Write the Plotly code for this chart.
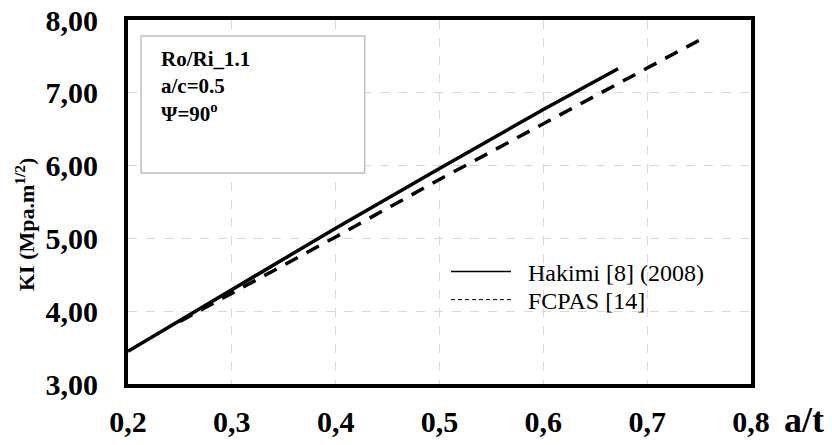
import plotly.graph_objects as go

# Data
hakimi_x = [0.2, 0.3, 0.4, 0.5, 0.6, 0.672]
hakimi_y = [3.45, 4.30, 5.14, 5.96, 6.77, 7.33]
fcpas_x = [0.25, 0.3, 0.4, 0.5, 0.6, 0.7, 0.75]
fcpas_y = [3.86, 4.245, 5.02, 5.81, 6.58, 7.34, 7.72]

series_names = ["Hakimi [8] (2008)", "FCPAS [14]"]
x_ticks = [0.2, 0.3, 0.4, 0.5, 0.6, 0.7, 0.8]
y_ticks = [3, 4, 5, 6, 7, 8]

FONT = "Liberation Serif, Times New Roman, serif"
NB = "\u00a0\u00a0"

fig = go.Figure()
fig.add_trace(go.Scatter(x=hakimi_x, y=hakimi_y, mode="lines",
                         line=dict(color="black", width=3.5), showlegend=False))
fig.add_trace(go.Scatter(x=fcpas_x, y=fcpas_y, mode="lines",
                         line=dict(color="black", width=3.5, dash="14px,10px"), showlegend=False))
# legend entries (thin sample lines as in reference)
fig.add_trace(go.Scatter(x=[None], y=[None], mode="lines", name=NB + series_names[0],
                         line=dict(color="black", width=1.5), legend="legend"))
fig.add_trace(go.Scatter(x=[None], y=[None], mode="lines", name=NB + series_names[1],
                         line=dict(color="black", width=1, dash="4px,3px"), legend="legend2"))

leg_common = dict(xanchor="left", yanchor="middle", bgcolor="rgba(0,0,0,0)",
                  font=dict(size=24, family=FONT), itemwidth=60)
fig.update_layout(
    width=832, height=445,
    margin=dict(l=128, r=81, t=20, b=61, autoexpand=False),
    paper_bgcolor="white", plot_bgcolor="white",
    separators=",.",
    font=dict(family=FONT, color="black"),
    showlegend=True,
    legend=dict(x=(446 - 128) / 623, y=(384 - 272) / 364, **leg_common),
    legend2=dict(x=(446 - 128) / 623, y=(384 - 300) / 364, **leg_common),
)
fig.update_xaxes(range=[0.2, 0.8], tickvals=x_ticks, tickformat=".1f", automargin=False,
                 showline=True, linewidth=4, linecolor="black", mirror=True,
                 showgrid=True, gridcolor="#d9d9d9", griddash="dash", gridwidth=1,
                 zeroline=False, ticks="", ticklabelstandoff=8,
                 tickfont=dict(size=30, family=FONT, weight="bold"))
fig.update_yaxes(range=[3, 8], tickvals=y_ticks, tickformat=".2f", automargin=False,
                 showline=True, linewidth=4, linecolor="black", mirror=True,
                 showgrid=True, gridcolor="#d9d9d9", griddash="dash", gridwidth=1,
                 zeroline=False, ticks="", ticklabelstandoff=20,
                 tickfont=dict(size=30, family=FONT, weight="bold"))

# info box
fig.add_shape(type="rect", xref="paper", yref="paper",
              x0=0.021, x1=0.380, y0=0.580, y1=0.956,
              line=dict(color="#bfbfbf", width=1.5), fillcolor="white", layer="above")
fig.add_annotation(xref="paper", yref="paper", x=0.0498, y=(384 - 86) / 364,
                   xanchor="left", yanchor="middle", align="left", showarrow=False,
                   text="Ro/Ri_1.1<br>a/c=0.5<br>Ψ=90<sup>o</sup>",
                   font=dict(size=21, family=FONT, weight="bold"))
# axis titles
fig.add_annotation(xref="paper", yref="paper", x=(804 - 128) / 623, y=(384 - 420) / 364,
                   xanchor="center", yanchor="middle", showarrow=False,
                   text="a/t", font=dict(size=36, family=FONT, weight="bold"))
fig.add_annotation(xref="paper", yref="paper", x=(25 - 128) / 623, y=(384 - 225) / 364,
                   xanchor="center", yanchor="middle", showarrow=False, textangle=-90,
                   text="KI (Mpa.m<sup>1/2</sup>)", font=dict(size=22, family=FONT, weight="bold"))

fig.write_html("out.html")
